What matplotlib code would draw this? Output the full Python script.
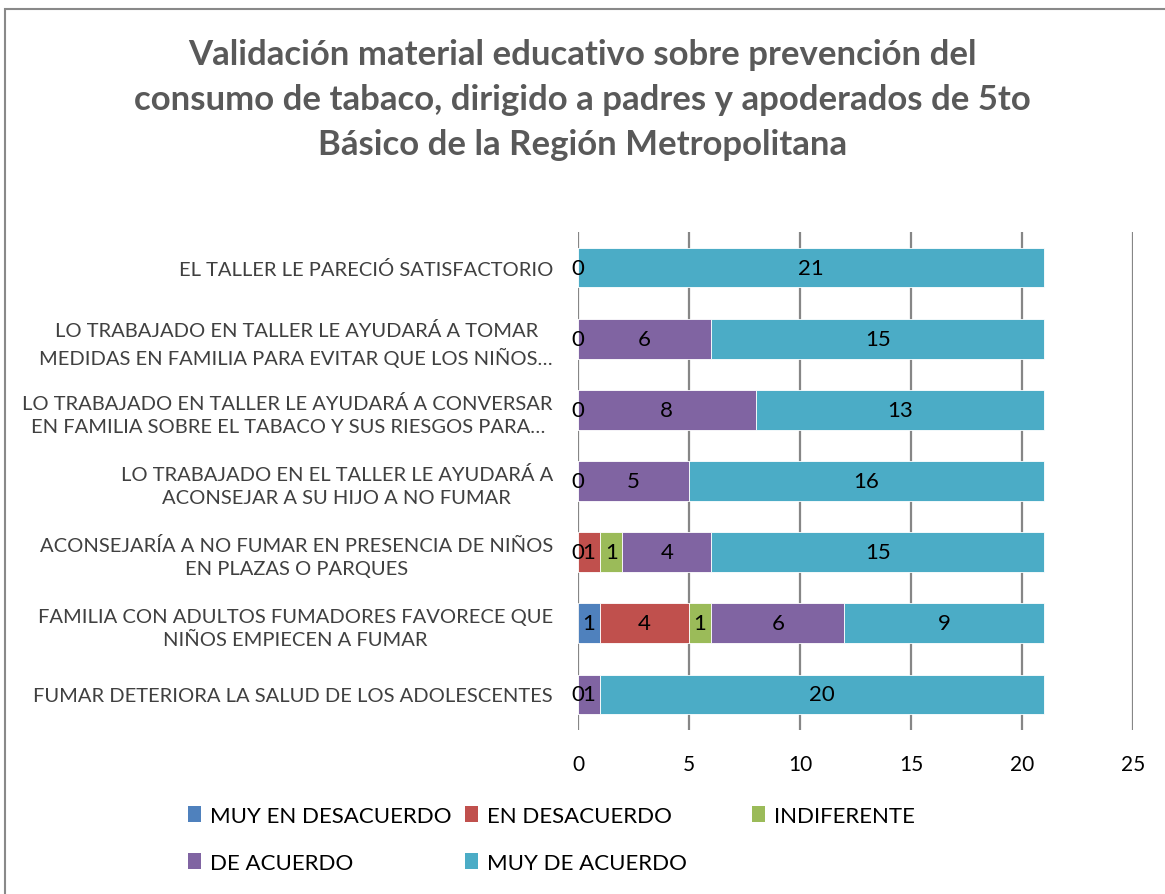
import numpy as np
import matplotlib.pyplot as plt
from matplotlib.patches import Patch, Rectangle

plt.rcParams["font.family"] = ["Lato", "DejaVu Sans"]

# categories, bottom to top
categories = [
    "FUMAR DETERIORA LA SALUD DE LOS ADOLESCENTES",
    "FAMILIA CON ADULTOS FUMADORES FAVORECE QUE\nNIÑOS EMPIECEN A FUMAR",
    "ACONSEJARÍA A NO FUMAR EN PRESENCIA DE NIÑOS\nEN PLAZAS O PARQUES",
    "LO TRABAJADO EN EL TALLER LE AYUDARÁ A\nACONSEJAR A SU HIJO A NO FUMAR",
    "LO TRABAJADO EN TALLER LE AYUDARÁ A CONVERSAR\nEN FAMILIA SOBRE EL TABACO Y SUS RIESGOS PARA…",
    "LO TRABAJADO EN TALLER LE AYUDARÁ A TOMAR\nMEDIDAS EN FAMILIA PARA EVITAR QUE LOS NIÑOS…",
    "EL TALLER LE PARECIÓ SATISFACTORIO",
]

series_names = ["MUY EN DESACUERDO", "EN DESACUERDO", "INDIFERENTE",
                "DE ACUERDO", "MUY DE ACUERDO"]
colors = ["#4F81BD", "#C0504D", "#9BBB59", "#8064A2", "#4BACC6"]

nan = np.nan
muy_desacuerdo = [0, 1, 0, 0, 0, 0, 0]
desacuerdo = [nan, 4, 1, nan, nan, nan, nan]
indiferente = [nan, 1, 1, nan, nan, nan, nan]
de_acuerdo = [1, 6, 4, 5, 8, 6, nan]
muy_de_acuerdo = [20, 9, 15, 16, 13, 15, 21]

series = [muy_desacuerdo, desacuerdo, indiferente, de_acuerdo, muy_de_acuerdo]

fig = plt.figure(figsize=(11.65, 8.95), dpi=100)
ax = fig.add_axes([0.4961, 0.1832, 0.4764, 0.5565])

y = np.arange(len(categories))
left = np.zeros(len(categories))
handles = []
for name, vals, col in zip(series_names, series, colors):
    vals = np.array(vals, dtype=float)
    w = np.nan_to_num(vals)
    bars = ax.barh(y, w, left=left, height=0.56, color=col,
                   edgecolor="white", linewidth=0.6, zorder=3)
    labels = ["" if np.isnan(v) else f"{int(v)}" for v in vals]
    ax.bar_label(bars, labels=labels, label_type="center", fontsize=16,
                 color="black", zorder=4)
    left += w
    handles.append(Patch(facecolor=col, label=name))

ax.set_xlim(0, 25)
ax.set_ylim(-0.5, len(categories) - 0.5)
ax.set_xticks([0, 5, 10, 15, 20, 25])
ax.set_yticks(y)
ax.set_yticklabels(categories, fontsize=14.5, color="#404040",
                   multialignment="center", linespacing=1.45)
ax.tick_params(axis="both", length=0)
ax.tick_params(axis="x", labelsize=15, pad=17)
ax.tick_params(axis="y", pad=18)
ax.grid(axis="x", color="#868686", linewidth=1.6, zorder=0)
for s in ["top", "right", "bottom", "left"]:
    ax.spines[s].set_visible(False)

fig.text(0.5, 1 - 100 / 895, "Validación material educativo sobre prevención del\n"
         "consumo de tabaco, dirigido a padres y apoderados de 5to\n"
         "Básico de la Región Metropolitana",
         ha="center", va="center", fontsize=25, fontweight="bold",
         color="#595959", linespacing=1.5)

# legend, laid out row by row like the original
legend_pos = [(188, 817), (465, 817), (752, 817), (188, 864), (465, 864)]
for h, (px, py) in zip(handles, legend_pos):
    fig.legend(handles=[h], loc="center left",
               bbox_to_anchor=(px / 1165, 1 - py / 895),
               frameon=False, fontsize=16, handlelength=0.6,
               handleheight=0.75, handletextpad=0.4, borderpad=0,
               borderaxespad=0)

# outer chart border (only top and left visible in the crop)
fig.add_artist(Rectangle((5 / 1165, -0.1), 1.2, 1 - 10 / 895 + 0.1,
                         transform=fig.transFigure, fill=False,
                         edgecolor="#898989", linewidth=1.5))

fig.savefig("out.png", dpi=100)
